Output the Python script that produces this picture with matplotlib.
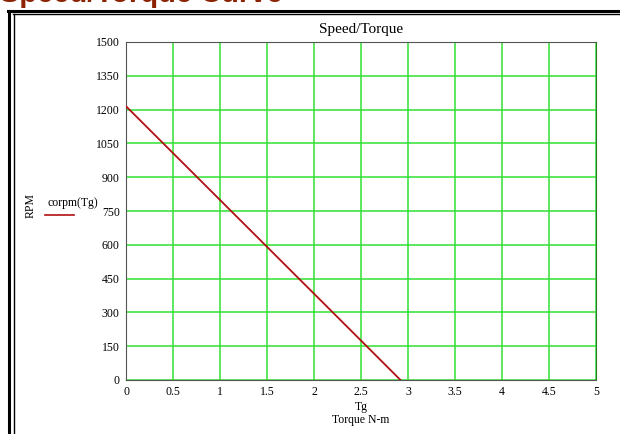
import matplotlib
matplotlib.use('Agg')
import matplotlib.pyplot as plt
from matplotlib.lines import Line2D

torque = [0.0, 0.5, 1.0, 1.5, 2.0, 2.5, 2.92]
rpm = [1215, 1007, 799, 591, 383, 175, 0]
x_ticks = [0, 0.5, 1, 1.5, 2, 2.5, 3, 3.5, 4, 4.5, 5]
x_labels = ['0', '0.5', '1', '1.5', '2', '2.5', '3', '3.5', '4', '4.5', '5']
y_ticks = [0, 150, 300, 450, 600, 750, 900, 1050, 1200, 1350, 1500]

W, H = 620, 434
serif = ['Liberation Serif', 'DejaVu Serif']


def fx(x):
    return x / W


def fy(y):
    return 1 - y / H


fig = plt.figure(figsize=(6.2, 4.34), dpi=100)
fig.patch.set_facecolor('white')

# page heading, clipped at the top edge like the screenshot
fig.text(fx(0), fy(2), 'Speed/Torque Curve', fontsize=21, fontweight='bold',
         color='#8B2200', family='Liberation Sans', ha='left', va='baseline')

# double border
fig.add_artist(Line2D([fx(8.5), fx(8.5)], [fy(10.5), fy(H + 5)], color='black', lw=2.2))
fig.add_artist(Line2D([fx(7.5), fx(W + 5)], [fy(10.5), fy(10.5)], color='black', lw=2.2))
fig.add_artist(Line2D([fx(13.5), fx(13.5)], [fy(14), fy(H + 5)], color='black', lw=1.0))
fig.add_artist(Line2D([fx(13), fx(W + 5)], [fy(14), fy(14)], color='black', lw=1.0))

ax = fig.add_axes([fx(126), fy(380), fx(596) - fx(126), fy(42) - fy(380)])
ax.plot(torque, rpm, color='#b01010', lw=1.3, zorder=3)
ax.set_xlim(0, 5)
ax.set_ylim(0, 1500)
ax.set_xticks(x_ticks)
ax.set_xticklabels(x_labels)
ax.set_yticks(y_ticks)
ax.grid(True, color='#33e033', lw=1.1)
ax.tick_params(length=0, labelsize=8.5, pad=4.5)
for lab in ax.get_xticklabels() + ax.get_yticklabels():
    lab.set_family(serif)
for side in ['top', 'left', 'bottom']:
    ax.spines[side].set_color('#555555')
ax.spines['right'].set_color('#2a7a2a')

fig.text(fx(361), fy(29), 'Speed/Torque', fontsize=11, family=serif, ha='center', va='center')
fig.text(fx(31), fy(205), 'RPM', fontsize=8.5, family=serif, rotation=90, ha='center', va='center')
fig.text(fx(48), fy(203), 'corpm(Tg)', fontsize=8.5, family=serif, ha='left', va='center')
fig.add_artist(Line2D([fx(45), fx(74)], [fy(215), fy(215)], color='#b01010', lw=1.2))
fig.text(fx(361), fy(407), 'Tg', fontsize=8.5, family=serif, ha='center', va='center')
fig.text(fx(361), fy(420), 'Torque N-m', fontsize=8.5, family=serif, ha='center', va='center')

fig.savefig('out.png', dpi=100)
